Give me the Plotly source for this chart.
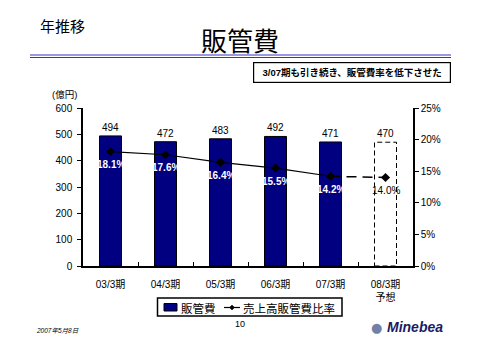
import plotly.graph_objects as go

categories = ["03/3期", "04/3期", "05/3期", "06/3期", "07/3期", "08/3期<br>予想"]
sga = [494, 472, 483, 492, 471, 470]          # 億円
sga_ratio = [0.181, 0.176, 0.164, 0.155, 0.142, 0.140]
ratio_labels = ["18.1%", "17.6%", "16.4%", "15.5%", "14.2%", "14.0%"]
n_actual = 5

JP = "Liberation Sans, Noto Sans CJK JP, sans-serif"
NAVY = "#000080"

# plot area in pixels
L, R, T, B = 83, 413, 108, 266
W, H = R - L, B - T
def px(x): return (x - L) / W
def py(y): return (B - y) / H

fig = go.Figure()

# actual bars
fig.add_trace(go.Bar(
    x=categories[:n_actual], y=sga[:n_actual], name="販管費",
    marker=dict(color=NAVY, line=dict(color="black", width=1)),
    width=0.4, text=[str(v) for v in sga[:n_actual]], textposition="outside",
    textfont=dict(size=10, color="black", family=JP), cliponaxis=False,
    showlegend=False, yaxis="y"))

# forecast bar (transparent bar carries the label), dashed outline as shape
fig.add_trace(go.Bar(
    x=categories[n_actual:], y=sga[n_actual:], name="予想",
    marker=dict(color="rgba(255,255,255,0)", line=dict(width=0)),
    width=0.4, text=[str(v) for v in sga[n_actual:]], textposition="outside",
    textfont=dict(size=10, color="black", family=JP), cliponaxis=False,
    showlegend=False, yaxis="y"))
for i in range(n_actual, len(categories)):
    fig.add_shape(type="rect", xref="x", yref="y",
                  x0=i - 0.2, x1=i + 0.2, y0=0, y1=sga[i],
                  line=dict(color="black", width=1, dash="5px,3px"),
                  fillcolor="white", layer="below")

# solid ratio line
fig.add_trace(go.Scatter(
    x=categories[:n_actual], y=sga_ratio[:n_actual], name="売上高販管費比率",
    mode="lines+markers", line=dict(color="black", width=1.2),
    marker=dict(symbol="diamond", size=7, color="black"),
    showlegend=False, yaxis="y2"))
# dashed forecast segment
fig.add_trace(go.Scatter(
    x=categories[n_actual - 1:], y=sga_ratio[n_actual - 1:],
    mode="lines", line=dict(color="black", width=1.5, dash="10px,6px"),
    showlegend=False, yaxis="y2"))
fig.add_trace(go.Scatter(
    x=categories[n_actual:], y=sga_ratio[n_actual:],
    mode="markers", marker=dict(symbol="diamond", size=7, color="black"),
    showlegend=False, yaxis="y2"))
# ratio labels
for i, (c, v, lab) in enumerate(zip(categories, sga_ratio, ratio_labels)):
    fig.add_annotation(x=c, y=v, xref="x", yref="y2", yshift=-13,
                       text=f"<b>{lab}</b>" if i < n_actual else lab,
                       showarrow=False,
                       font=dict(size=10, family=JP,
                                 color="white" if i < n_actual else "black"))

def note(text, x, y, size, family=JP, xanchor="center", color="black", **kw):
    fig.add_annotation(text=text, xref="paper", yref="paper", x=px(x), y=py(y),
                       xanchor=xanchor, yanchor="middle", showarrow=False,
                       font=dict(size=size, family=family, color=color), **kw)

# header texts
note("年推移", 38, 25, 15, "Noto Sans CJK JP", xanchor="left")
note("販管費", 240, 40, 26, "Noto Sans CJK JP")
for yy in (55, 57.5):
    fig.add_shape(type="line", xref="paper", yref="paper",
                  x0=px(30), x1=px(451), y0=py(yy), y1=py(yy),
                  line=dict(color="#3333cc", width=1))
note("<b>3/07期も引き続き、販管費率を低下させた</b>", 351.5, 72.5, 9.5,
     bordercolor="black", borderwidth=1.2, borderpad=4, bgcolor="white", width=188)
note("(億円)", 64, 94, 9.5)

# manual legend
fig.add_shape(type="rect", xref="paper", yref="paper",
              x0=px(157.5), x1=px(342), y0=py(316), y1=py(298),
              line=dict(color="black", width=1.5), fillcolor="white")
fig.add_shape(type="rect", xref="paper", yref="paper",
              x0=px(164), x1=px(177), y0=py(311), y1=py(303.5),
              line=dict(color="black", width=1), fillcolor=NAVY)
note("販管費", 179, 307.5, 11.5, "Noto Sans CJK JP", xanchor="left")
fig.add_shape(type="line", xref="paper", yref="paper",
              x0=px(224), x1=px(240), y0=py(307.5), y1=py(307.5),
              line=dict(color="black", width=1.2))
fig.add_shape(type="path", xref="paper", yref="paper",
              path=f"M {px(232)} {py(305)} L {px(234.5)} {py(307.5)} L {px(232)} {py(310)} L {px(229.5)} {py(307.5)} Z",
              line=dict(color="black", width=0.5), fillcolor="black")
note("売上高販管費比率", 241, 307.5, 11.5, "Noto Sans CJK JP", xanchor="left")

# footer
note("10", 240, 324, 9)
note("<i>2007年5月8日</i>", 34, 330, 6.5, xanchor="left")
note("<b><i>Minebea</i></b>", 385, 327, 14, "Liberation Sans", xanchor="left",
     color="#1a1a66")
note("●", 376, 327, 13, "DejaVu Sans", color="#7080a8")

fig.update_layout(
    width=480, height=340,
    margin=dict(l=L, r=480 - R, t=T, b=340 - B, pad=0),
    paper_bgcolor="white", plot_bgcolor="white",
    font=dict(family=JP, size=10, color="black"),
    barmode="overlay", bargap=0.6, showlegend=False,
    xaxis=dict(type="category", categoryorder="array", categoryarray=categories,
               showline=True, linecolor="black", linewidth=1.5,
               ticks="inside", tickson="boundaries", ticklen=4, tickcolor="black",
               tickfont=dict(size=10, family=JP), showgrid=False,
               ticklabelstandoff=8,
               range=[-0.5, len(categories) - 0.5]),
    yaxis=dict(range=[0, 600], dtick=100, showline=True, linecolor="black",
               linewidth=1.5, ticks="outside", ticklen=4, tickcolor="black",
               showgrid=False, zeroline=False, tickfont=dict(size=10),
               ticklabelstandoff=3),
    yaxis2=dict(range=[0, 0.25], dtick=0.05, tickformat=".0%", overlaying="y",
                side="right", showline=True, linecolor="black", linewidth=1.5,
                ticks="outside", ticklen=4, tickcolor="black", showgrid=False,
                zeroline=False, tickfont=dict(size=10)),
)

fig.write_html("out.html")
